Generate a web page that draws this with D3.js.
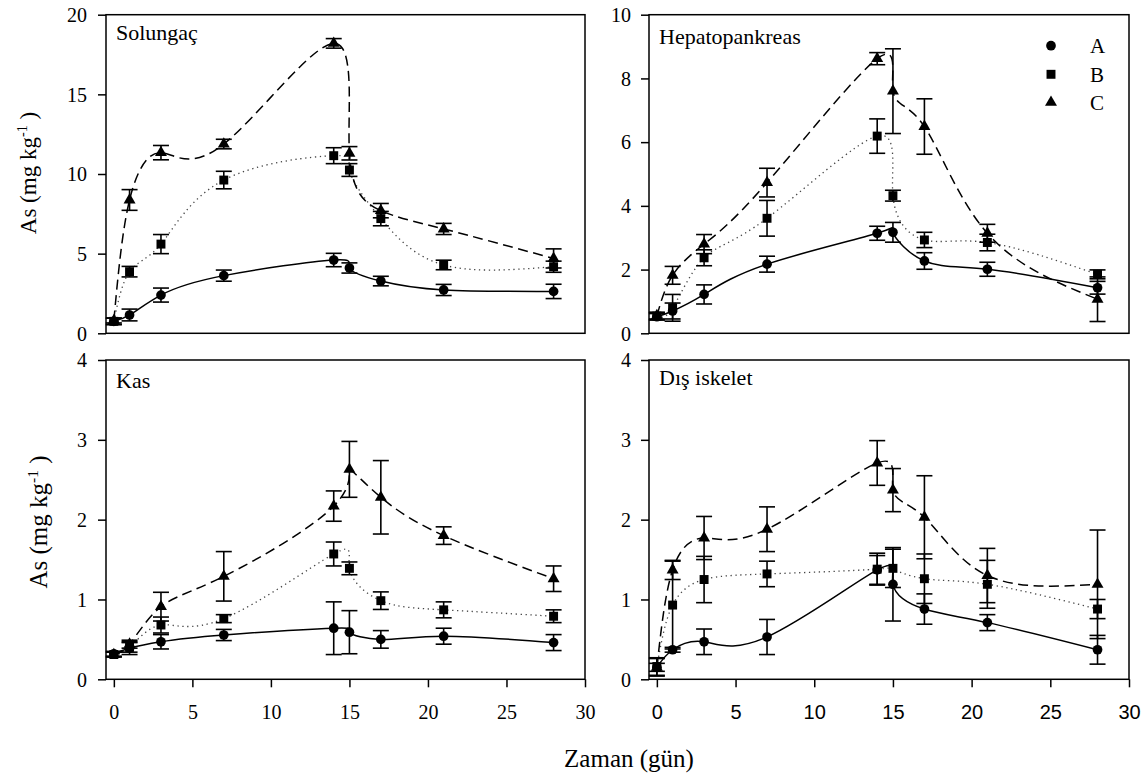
<!DOCTYPE html>
<html>
<head>
<meta charset="utf-8">
<script src="https://cdn.jsdelivr.net/npm/d3@7"></script>
<style>
  html, body { margin: 0; padding: 0; background: #fff; }
  svg { display: block; }
  svg text { font-family: "Liberation Serif", "Times New Roman", Times, "DejaVu Serif", "Noto Serif", serif; fill: #000; }
</style>
</head>
<body>
<svg id="chart" width="1147" height="778"></svg>
<script>
// Sampling days
const days = [0, 1, 3, 7, 14, 15, 17, 21, 28];
const xTicks = [0, 5, 10, 15, 20, 25, 30];
const groups = ["A", "B", "C"];

// Solungaç (gill)
const gillA    = [0.75, 1.15, 2.4, 3.62, 4.6, 4.1, 3.28, 2.72, 2.63];
const gillAErr = [0.2, 0.37, 0.44, 0.35, 0.42, 0.32, 0.3, 0.35, 0.45];
const gillB    = [0.75, 3.87, 5.6, 9.62, 11.15, 10.25, 7.2, 4.29, 4.18];
const gillBErr = [0.2, 0.33, 0.6, 0.55, 0.5, 0.4, 0.45, 0.3, 0.35];
const gillC    = [0.8, 8.37, 11.34, 11.88, 18.2, 11.3, 7.7, 6.55, 4.7];
const gillCErr = [0.15, 0.65, 0.45, 0.3, 0.3, 0.42, 0.45, 0.35, 0.6];
const gillTicks = [0, 5, 10, 15, 20];

// Hepatopankreas
const hepA    = [0.52, 0.7, 1.22, 2.17, 3.14, 3.17, 2.27, 2.01, 1.43];
const hepAErr = [0.1, 0.25, 0.3, 0.25, 0.22, 0.31, 0.26, 0.22, 0.2];
const hepB    = [0.54, 0.8, 2.37, 3.61, 6.19, 4.32, 2.93, 2.85, 1.85];
const hepBErr = [0.12, 0.42, 0.25, 0.56, 0.54, 0.17, 0.24, 0.26, 0.14];
const hepC    = [0.55, 1.82, 2.8, 4.73, 8.62, 7.6, 6.49, 3.14, 1.07];
const hepCErr = [0.1, 0.28, 0.3, 0.45, 0.19, 1.33, 0.87, 0.28, 0.7];
const hepTicks = [0, 2, 4, 6, 8, 10];

// Kas (muscle)
const musA    = [0.32, 0.39, 0.47, 0.555, 0.64, 0.59, 0.5, 0.54, 0.46];
const musAErr = [0.03, 0.08, 0.09, 0.07, 0.33, 0.27, 0.11, 0.1, 0.1];
const musB    = [0.31, 0.4, 0.68, 0.76, 1.57, 1.39, 0.985, 0.87, 0.79];
const musBErr = [0.03, 0.06, 0.1, 0.05, 0.15, 0.08, 0.11, 0.1, 0.08];
const musC    = [0.31, 0.44, 0.91, 1.29, 2.17, 2.63, 2.28, 1.8, 1.26];
const musCErr = [0.03, 0.05, 0.18, 0.31, 0.19, 0.35, 0.46, 0.11, 0.16];
const musTicks = [0, 1, 2, 3, 4];

// Dış iskelet (exoskeleton)
const exoA    = [0.15, 0.37, 0.47, 0.53, 1.37, 1.19, 0.88, 0.71, 0.37];
const exoAErr = [0.11, 0.03, 0.16, 0.22, 0.18, 0.46, 0.19, 0.1, 0.18];
const exoB    = [0.16, 0.93, 1.25, 1.32, 1.38, 1.39, 1.26, 1.19, 0.88];
const exoBErr = [0.11, 0.55, 0.29, 0.16, 0.2, 0.24, 0.31, 0.3, 0.12];
const exoC    = [0.15, 1.37, 1.77, 1.88, 2.71, 2.37, 2.03, 1.3, 1.19];
const exoCErr = [0.05, 0.12, 0.27, 0.28, 0.28, 0.27, 0.52, 0.34, 0.68];
const exoTicks = [0, 1, 2, 3, 4];

const SERIF = '"Liberation Serif", "Times New Roman", Times, "DejaVu Serif", "Noto Serif", serif';
const SANS = '"Liberation Sans", Arial, Helvetica, sans-serif';

const panels = [
  { title: "Solungaç", yMax: 20, yTicks: gillTicks, series: [[gillA, gillAErr], [gillB, gillBErr], [gillC, gillCErr]],
    box: { l: 106, r: 585, t: 14.7, b: 333.3 }, labelEdge: 87, titleY: 40, xAxis: false, legend: false,
    yTitle: { x: 36, y: 173, size: 23 }, xFont: null },
  { title: "Hepatopankreas", yMax: 10, yTicks: hepTicks, series: [[hepA, hepAErr], [hepB, hepBErr], [hepC, hepCErr]],
    box: { l: 649, r: 1129, t: 14.7, b: 333.3 }, labelEdge: 631, titleY: 44, xAxis: false, legend: true,
    yTitle: null, xFont: null },
  { title: "Kas", yMax: 4, yTicks: musTicks, series: [[musA, musAErr], [musB, musBErr], [musC, musCErr]],
    box: { l: 106, r: 585, t: 360, b: 679.3 }, labelEdge: 87, titleY: 388, xAxis: true, legend: false,
    yTitle: { x: 47, y: 522, size: 25 }, xFont: SERIF },
  { title: "Dış iskelet", yMax: 4, yTicks: exoTicks, series: [[exoA, exoAErr], [exoB, exoBErr], [exoC, exoCErr]],
    box: { l: 649, r: 1129, t: 360, b: 679.3 }, labelEdge: 631, titleY: 385, xAxis: true, legend: false,
    yTitle: null, xFont: SANS }
];

// Line style per group: solid, dotted, dashed
const lineStyles = [
  { dash: null, width: 1.5, color: "#000" },
  { dash: "1.3,3.6", width: 1.3, color: "#444" },
  { dash: "10,5.5", width: 1.5, color: "#000" }
];
const symbols = [
  d3.symbol().type(d3.symbolCircle).size(74),
  d3.symbol().type(d3.symbolSquare).size(80),
  d3.symbol().type(d3.symbolTriangle).size(62)
];

const svg = d3.select("#chart");

panels.forEach(p => {
  const x = d3.scaleLinear().domain([-0.5, 30]).range([p.box.l, p.box.r]);
  const y = d3.scaleLinear().domain([0, p.yMax]).range([p.box.b, p.box.t]);
  const g = svg.append("g");

  // Y axis with outward ticks
  const yAxis = d3.axisLeft(y).tickValues(p.yTicks).tickSize(8).tickPadding(p.box.l - 8 - p.labelEdge).tickFormat(d3.format("d"));
  const ya = g.append("g").attr("transform", `translate(${p.box.l},0)`).call(yAxis);
  ya.attr("font-family", null).attr("font-size", null);
  ya.select(".domain").remove();
  ya.selectAll(".tick line").attr("stroke", "#000").attr("stroke-width", 1.5);
  ya.selectAll(".tick text").style("font-family", SERIF).style("font-size", "20px").attr("dy", "0.34em");

  if (p.xAxis) {
    const xAxis = d3.axisBottom(x).tickValues(xTicks).tickSize(8).tickPadding(17.5);
    const xa = g.append("g").attr("transform", `translate(0,${p.box.b})`).call(xAxis);
    xa.attr("font-family", null).attr("font-size", null);
    xa.select(".domain").remove();
    xa.selectAll(".tick line").attr("stroke", "#000").attr("stroke-width", 1.5);
    xa.selectAll(".tick text").style("font-family", p.xFont).style("font-size", "20px");
  }

  // Spline curves through the means
  const line = d3.line()
    .x(d => x(d[0]))
    .y(d => y(d[1]))
    .curve(d3.curveNatural);
  p.series.forEach((s, i) => {
    const pts = days.map((d, k) => [d, s[0][k]]);
    const st = lineStyles[i];
    g.append("path")
      .attr("d", line(pts))
      .attr("fill", "none")
      .attr("stroke", st.color)
      .attr("stroke-width", st.width)
      .attr("stroke-dasharray", st.dash);
  });

  // Error bars
  p.series.forEach(s => {
    days.forEach((d, k) => {
      const v = s[0][k], e = s[1][k];
      const cx = x(d), y1 = y(v + e), y0 = y(v - e);
      const eb = g.append("g").attr("stroke", "#000").attr("stroke-width", 1.6);
      eb.append("line").attr("x1", cx).attr("x2", cx).attr("y1", y1).attr("y2", y0);
      eb.append("line").attr("x1", cx - 8).attr("x2", cx + 8).attr("y1", y1).attr("y2", y1);
      eb.append("line").attr("x1", cx - 8).attr("x2", cx + 8).attr("y1", y0).attr("y2", y0);
    });
  });

  // Markers
  p.series.forEach((s, i) => {
    g.selectAll(null).data(days.map((d, k) => [d, s[0][k]])).enter()
      .append("path")
      .attr("d", symbols[i])
      .attr("transform", d => `translate(${x(d[0])},${y(d[1])})`)
      .attr("fill", "#000");
  });

  // Frame
  g.append("rect")
    .attr("x", p.box.l).attr("y", p.box.t)
    .attr("width", p.box.r - p.box.l).attr("height", p.box.b - p.box.t)
    .attr("fill", "none").attr("stroke", "#000").attr("stroke-width", 1.5);

  // Panel title
  g.append("text").attr("x", p.box.l + 10).attr("y", p.titleY)
    .style("font-family", SERIF).style("font-size", "22px").text(p.title);

  // Y axis title
  if (p.yTitle) {
    const t = g.append("text")
      .attr("transform", `translate(${p.yTitle.x},${p.yTitle.y}) rotate(-90)`)
      .attr("text-anchor", "middle")
      .style("font-family", SERIF)
      .style("font-size", p.yTitle.size + "px");
    t.append("tspan").text("As (mg kg");
    t.append("tspan").attr("dy", -p.yTitle.size * 0.38).style("font-size", (p.yTitle.size * 0.62) + "px").text("-1");
    t.append("tspan").attr("dy", p.yTitle.size * 0.38).text(" )");
  }

  // Legend
  if (p.legend) {
    const rows = [45.7, 74.3, 102.3];
    groups.forEach((name, i) => {
      g.append("path").attr("d", symbols[i]).attr("transform", `translate(1051,${rows[i]})`).attr("fill", "#000");
      g.append("text").attr("x", 1090).attr("y", rows[i] + 7.5)
        .style("font-family", SERIF).style("font-size", "21px").text(name);
    });
  }
});

// X axis title
svg.append("text").attr("x", 629).attr("y", 767).attr("text-anchor", "middle")
  .style("font-family", SERIF).style("font-size", "25px").text("Zaman (gün)");
</script>
</body>
</html>
